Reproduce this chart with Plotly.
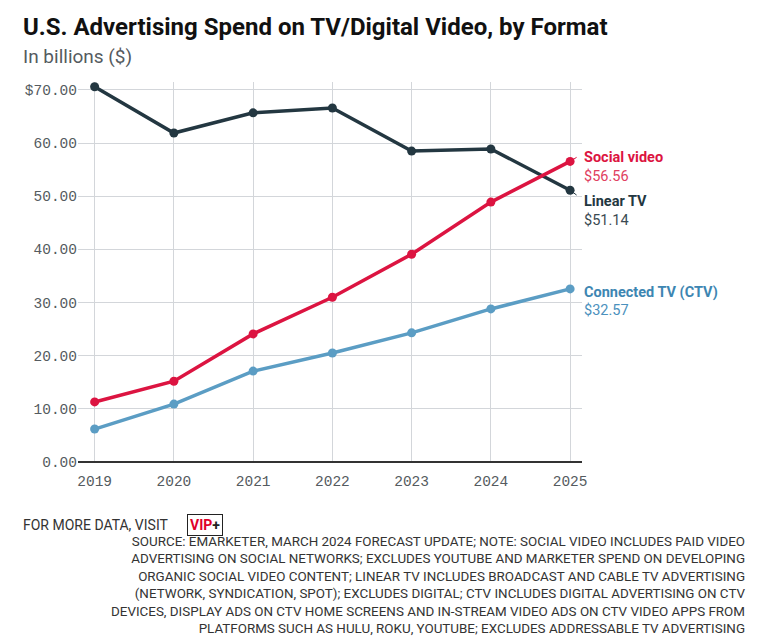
import plotly.graph_objects as go

years = [2019, 2020, 2021, 2022, 2023, 2024, 2025]
linear_tv = [70.6, 61.9, 65.7, 66.6, 58.5, 58.9, 51.14]
social_video = [11.3, 15.2, 24.1, 31.0, 39.1, 48.9, 56.56]
ctv = [6.2, 10.9, 17.1, 20.5, 24.3, 28.8, 32.57]

series_names = ["Linear TV", "Social video", "Connected TV (CTV)"]
series_colors = ["#233741", "#dc1441", "#5b9dc4"]
label_colors = ["#233741", "#dc1441", "#3d86b2"]
value_colors = ["#3a4a52", "#e0405f", "#4b91bd"]

y_tickvals = [0, 10, 20, 30, 40, 50, 60, 70]
y_ticktext = ["0.00", "10.00", "20.00", "30.00", "40.00", "50.00", "60.00", "$70.00"]

title_text = "U.S. Advertising Spend on TV/Digital Video, by Format"
subtitle_text = "In billions ($)"
source_lines = [
    "SOURCE: EMARKETER, MARCH 2024 FORECAST UPDATE; NOTE: SOCIAL VIDEO INCLUDES PAID VIDEO",
    "ADVERTISING ON SOCIAL NETWORKS; EXCLUDES YOUTUBE AND MARKETER SPEND ON DEVELOPING",
    "ORGANIC SOCIAL VIDEO CONTENT; LINEAR TV INCLUDES BROADCAST AND CABLE TV ADVERTISING",
    "(NETWORK, SYNDICATION, SPOT); EXCLUDES DIGITAL; CTV INCLUDES DIGITAL ADVERTISING ON CTV",
    "DEVICES, DISPLAY ADS ON CTV HOME SCREENS AND IN-STREAM VIDEO ADS ON CTV VIDEO APPS FROM",
    "PLATFORMS SUCH AS HULU, ROKU, YOUTUBE; EXCLUDES ADDRESSABLE TV ADVERTISING",
]

all_series = [linear_tv, social_video, ctv]

fig = go.Figure()
for name, vals, col in zip(series_names, all_series, series_colors):
    fig.add_trace(go.Scatter(
        x=years, y=vals, mode="lines+markers", name=name,
        line=dict(color=col, width=3.5),
        marker=dict(color=col, size=9),
        showlegend=False, hoverinfo="skip",
    ))

# End labels (pixel shifts relative to the last point)
name_yshift = [-11, 4, -4]
value_yshift = [-30, -15, -22]
leader = [(8, 6), (8, -5), (0, 0)]
for i, (name, vals) in enumerate(zip(series_names, all_series)):
    last = vals[-1]
    fig.add_annotation(
        x=years[-1], y=last, xref="x", yref="y",
        text="<b>%s</b>" % name, showarrow=False,
        xanchor="left", yanchor="middle", xshift=12, yshift=name_yshift[i],
        font=dict(family="Roboto", size=14.5, color=label_colors[i]),
    )
    fig.add_annotation(
        x=years[-1], y=last, xref="x", yref="y",
        text="$%.2f" % last, showarrow=False,
        xanchor="left", yanchor="middle", xshift=12, yshift=value_yshift[i],
        font=dict(family="Roboto", size=14.5, color=value_colors[i]),
    )
    if leader[i] != (0, 0):
        fig.add_annotation(
            x=years[-1], y=last, xref="x", yref="y", text="",
            showarrow=True, arrowhead=0, arrowwidth=1, arrowcolor=label_colors[i],
            ax=leader[i][0], ay=leader[i][1], standoff=3,
        )

# Title / subtitle
fig.add_annotation(
    xref="paper", yref="paper", x=-0.113, y=1.145, xanchor="left", yanchor="middle",
    text="<b>%s</b>" % title_text, showarrow=False,
    font=dict(family="Roboto", size=24, color="#111111"),
)
fig.add_annotation(
    xref="paper", yref="paper", x=-0.113, y=1.068, xanchor="left", yanchor="middle",
    text=subtitle_text, showarrow=False,
    font=dict(family="Roboto", size=19, color="#555b60"),
)

# Footer
fig.add_annotation(
    xref="paper", yref="paper", x=-0.113, y=-0.166, xanchor="left", yanchor="middle",
    text="FOR MORE DATA, VISIT", showarrow=False,
    font=dict(family="Roboto", size=14, color="#333333"),
)
fig.add_annotation(
    xref="paper", yref="paper", x=0.216, y=-0.166, xanchor="left", yanchor="middle",
    text="<b><span style='color:#e0002a'>VIP</span>+</b>", showarrow=False,
    bordercolor="#222222", borderwidth=1, borderpad=2,
    font=dict(family="Roboto", size=14, color="#222222"),
)
fig.add_annotation(
    xref="paper", yref="paper", x=1.327, y=-0.183, xanchor="right", yanchor="top",
    text="<br>".join(source_lines), showarrow=False, align="right",
    font=dict(family="Roboto", size=13.4, color="#333333"),
)

fig.update_layout(
    width=771, height=639,
    margin=dict(l=70, r=197, t=74, b=185),
    paper_bgcolor="white", plot_bgcolor="white",
    xaxis=dict(
        range=[2018.79, 2025.15], tickvals=years, ticktext=[str(y) for y in years],
        showgrid=True, gridcolor="#d3d6da", gridwidth=1,
        showline=False, zeroline=False, ticks="", ticklabelstandoff=8,
        tickfont=dict(family="Liberation Mono", size=14.5, color="#555b60"),
    ),
    yaxis=dict(
        range=[0, 71.5], tickvals=y_tickvals, ticktext=y_ticktext,
        showgrid=True, gridcolor="#d3d6da", gridwidth=1,
        zeroline=True, zerolinecolor="#333333", zerolinewidth=1.5,
        showline=False, ticks="",
        tickfont=dict(family="Liberation Mono", size=14.5, color="#555b60"),
    ),
)

fig.write_html("out.html")
